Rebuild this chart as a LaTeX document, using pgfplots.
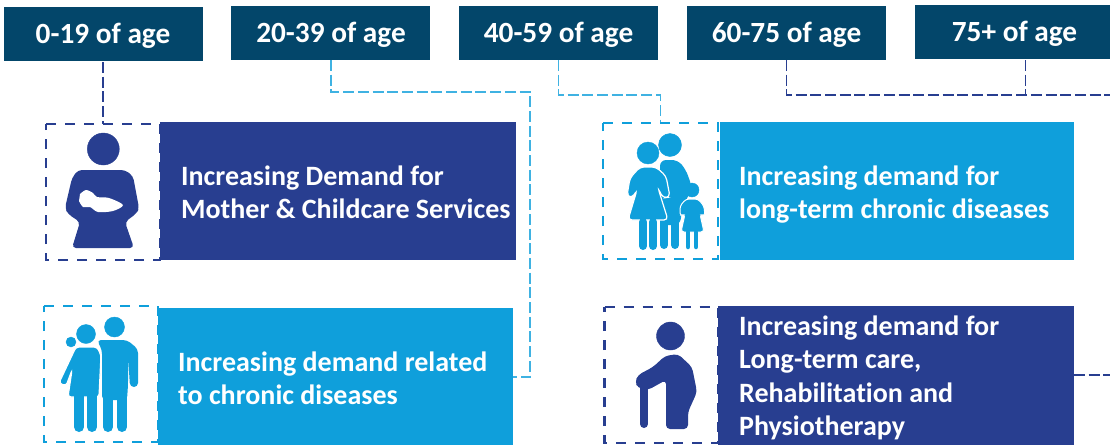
\documentclass[border=0pt]{standalone}
\usepackage{pgfplots}
\pgfplotsset{compat=1.18}
\usepackage{fontspec}
\setmainfont[Ligatures=NoCommon]{Carlito}
\definecolor{hd}{HTML}{03466A}
\definecolor{db}{HTML}{283E90}
\definecolor{lb}{HTML}{0F9FDB}
\tikzset{
  box/.style={fill=#1,draw=none},
  dash/.style={draw=#1,line width=1.2pt,dash pattern=on 11pt off 3.7pt},
  frame/.style={draw=#1,line width=2.4pt,dash pattern=on 10pt off 9pt},
  lab/.style={text=white,font=\bfseries\fontsize{28}{33.5}\selectfont,anchor=west,align=left,inner sep=0pt},
  hl/.style={text=white,font=\bfseries\fontsize{29.3}{32}\selectfont,anchor=center,inner sep=0pt},
}
\pgfplotsset{head/.style={only marks,mark=*,mark size=#1,mark options={draw=none}}}
\begin{document}
\begin{tikzpicture}[x=1pt,y=1pt]
\path[use as bounding box] (0,0) rectangle (1110,445);
\begin{axis}[
  at={(0,0)},anchor=south west,
  scale only axis, width=1110pt, height=445pt,
  xmin=0,xmax=1110,ymin=0,ymax=445,y dir=reverse,
  axis lines=none, clip=true,
]
% header boxes
\addplot[box=hd] coordinates {(4,7)(203,7)(203,61)(4,61)} -- cycle;
\addplot[box=hd] coordinates {(231,6)(430,6)(430,60)(231,60)} -- cycle;
\addplot[box=hd] coordinates {(459,6)(658,6)(658,60)(459,60)} -- cycle;
\addplot[box=hd] coordinates {(687,6)(886,6)(886,60)(687,60)} -- cycle;
\addplot[box=hd] coordinates {(915,5)(1112,5)(1112,59)(915,59)} -- cycle;
\node[hl] at (axis cs:103,35.5) {0-19 of age};
\node[hl] at (axis cs:331,34.5) {20-39 of age};
\node[hl] at (axis cs:558.5,34.5) {40-59 of age};
\node[hl] at (axis cs:786.5,34.5) {60-75 of age};
\node[hl] at (axis cs:1014.5,33.5) {75+ of age};
% connectors
\addplot[dash=db] coordinates {(103,62)(103,124)};
\addplot[dash=lb!80] coordinates {(331,60)(331,92)(530,92)(530,377)(513,377)};
\addplot[dash=lb!80] coordinates {(558.5,60)(558.5,95)(660.5,95)(660.5,123)};
\addplot[dash=db] coordinates {(786.5,60)(786.5,95)(1112,95)};
\addplot[dash=db] coordinates {(1025.7,60)(1025.7,95)};
\addplot[dash=db] coordinates {(1074,375)(1112,375)};
% frames
\addplot[frame=db] coordinates {(46,124)(160,124)(160,260)(46,260)(46,124)};
\addplot[frame=lb] coordinates {(44,306)(158,306)(158,442)(44,442)(44,306)};
\addplot[frame=lb] coordinates {(603,123)(718,123)(718,259)(603,259)(603,123)};
\addplot[frame=db] coordinates {(604.5,307)(718,307)(718,443)(604.5,443)(604.5,307)};
% panels
\addplot[box=db] coordinates {(160,122)(516,122)(516,260)(160,260)} -- cycle;
\addplot[box=lb] coordinates {(158,308)(513,308)(513,445)(158,445)} -- cycle;
\addplot[box=lb] coordinates {(720,122)(1074,122)(1074,260)(720,260)} -- cycle;
\addplot[box=db] coordinates {(718,306)(1074,306)(1074,445)(718,445)} -- cycle;
\node[lab] at (axis cs:181,192.5) {Increasing Demand for\\Mother \& Childcare Services};
\node[lab] at (axis cs:178,378.5) {Increasing demand related\\to chronic diseases};
\node[lab] at (axis cs:739,194.5) {Increasing demand for\\long-term chronic diseases};
\node[lab] at (axis cs:739,378) {Increasing demand for\\Long-term care,\\Rehabilitation and\\Physiotherapy};
% icon: mother
\addplot[head=16pt,db] coordinates {(103.3,149)};
\addplot[box=db,rounded corners=4pt] coordinates {(78,170)(125,170)(133,176)(139,208)(137,213)(125,222)(134,248)(72,248)(80,222)(68,214)(65,208)(72,178)} -- cycle;
\addplot[box=white,smooth] coordinates {(80,194)(86,190)(93,193)(97,197)(109,198)(123,205)(113,211)(98,212)(90,207)(83,207)(79,201)} -- cycle;
% icon: couple
\addplot[head=10pt,lb] coordinates {(114.5,327)};
\addplot[head=9.5pt,lb] coordinates {(86,334)};
\addplot[head=5pt,lb] coordinates {(71,342)};
\addplot[box=lb,rounded corners=4pt] coordinates {(97,340)(127,340)(138,349)(138,387)(130,387)(128,355)(128,385)(127,400)(102,400)(102,350)} -- cycle;
\addplot[draw=lb,line width=10pt,line cap=round] coordinates {(108,380)(108,427)};
\addplot[draw=lb,line width=10pt,line cap=round] coordinates {(122,380)(122,427)};
\addplot[box=lb,draw=white,line width=1.2pt,rounded corners=3pt] coordinates {(76,347)(97,347)(101,355)(99,397)(68,397)(72,370)(66,386)(59,383)} -- cycle;
\addplot[draw=lb,line width=10pt,line cap=round] coordinates {(79,395)(79,427)};
\addplot[draw=lb,line width=10pt,line cap=round] coordinates {(92,395)(92,427)};
% icon: family
\addplot[head=11.5pt,lb] coordinates {(670,145)};
\addplot[box=lb,rounded corners=6pt] coordinates {(660,160)(678,160)(686,170)(692,187)(682,210)(680,225)(660,225)} -- cycle;
\addplot[draw=lb,line width=8pt,line cap=round] coordinates {(664,218)(664,245)};
\addplot[draw=lb,line width=8pt,line cap=round] coordinates {(675,218)(675,245)};
\addplot[head=11pt,lb] coordinates {(648,153)};
\addplot[box=lb,draw=white,line width=1.2pt,rounded corners=4pt] coordinates {(640,167)(656,167)(666,176)(670,197)(663,198)(658,188)(668,220)(628,220)(637,190)(632,198)(627,196)(630,178)} -- cycle;
\addplot[draw=lb,line width=8pt,line cap=round] coordinates {(643,222)(643,246)};
\addplot[draw=lb,line width=8pt,line cap=round] coordinates {(653,222)(653,246)};
\addplot[head=7pt,lb] coordinates {(692,190)};
\addplot[box=lb,draw=white,line width=1pt,rounded corners=3pt] coordinates {(686,199)(698,199)(704,206)(705,216)(700,214)(704,232)(681,232)(685,214)(680,216)(680,206)} -- cycle;
\addplot[draw=lb,line width=4.5pt,line cap=round] coordinates {(688,232)(688,247)};
\addplot[draw=lb,line width=4.5pt,line cap=round] coordinates {(696,232)(696,247)};
% icon: elder
\addplot[head=14pt,db] coordinates {(670.5,336)};
\addplot[box=db,rounded corners=4pt] coordinates {(678,354)(692,367)(697,392)(688,412)(688,429)(666,429)(666,380)(648,390)(638,388)(635,382)(638,375)(653,367)(665,356)} -- cycle;
\addplot[draw=db,line width=8pt,line cap=round] coordinates {(644,385)(644,424)};
\end{axis}
\end{tikzpicture}
\end{document}
